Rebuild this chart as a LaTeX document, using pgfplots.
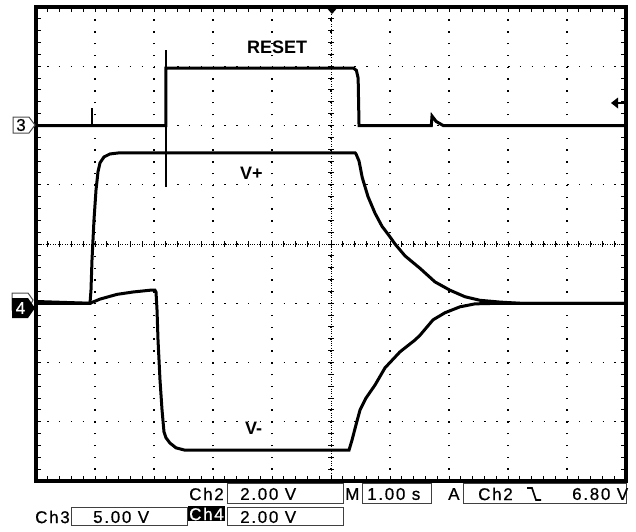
\documentclass[border=0pt]{standalone}
\usepackage{pgfplots}
\pgfplotsset{compat=1.18}
\usepackage{fontspec}
\setmainfont{Liberation Sans}
\newfontfamily\oscfont[LetterSpace=10, FakeBold=0.6]{Liberation Sans}
\newcommand{\osc}{\oscfont\fontsize{17}{17}\selectfont}
\begin{document}
\begin{tikzpicture}
\useasboundingbox (0,0) rectangle (636pt,-531pt);
% centre crosshair (drawn beneath the traces)
\begin{scope}[x=1pt,y=-1pt]
\draw[line width=1pt, dash pattern=on 1pt off 1.4pt] (331,7) -- (331,481);
\draw[line width=1pt, dash pattern=on 1pt off 1.4pt] (36,244) -- (626,244);
\foreach \i in {1,...,39} {\draw[line width=1pt] (328,7+\i*11.85) -- (334,7+\i*11.85);}
\foreach \i in {1,...,49} {\draw[line width=1pt] (36+\i*11.8,241) -- (36+\i*11.8,247);}
\end{scope}
\begin{axis}[
  at={(36pt,-481pt)}, anchor=south west,
  width=590pt, height=474pt, scale only axis,
  xmin=0, xmax=10, ymin=0, ymax=8,
  xtick={0,...,10}, ytick={0,...,8},
  xticklabels={}, yticklabels={},
  minor x tick num=4, minor y tick num=4,
  tick align=inside,
  major tick length=5pt, minor tick length=5pt,
  tick style={black, line width=1pt},
  grid=major,
  major grid style={black, line width=1.4pt, dash pattern=on 1.4pt off 10.42pt, dash phase=0.7pt},
  axis line style={line width=3.5pt},
]
% Ch3 : RESET
\addplot[black, line width=3pt] coordinates {
 (0,6.0) (0.95,6.0) (2.203,6.0) (2.203,6.97) (5.38,6.97) (5.43,6.93) (5.46,6.8) (5.475,6.0)
 (6.70,6.0) (6.712,6.16) (6.78,6.07) (6.90,6.0) (10,6.0)};
\addplot[black, line width=1.2pt] coordinates {(0.95,6.0) (0.95,6.30)};
\addplot[black, line width=1.2pt] coordinates {(2.203,4.96) (2.203,7.27)};
% Ch2 : V+
\addplot[black, line width=3pt] coordinates {
 (0,3.0) (0.915,3.0) (0.932,3.22) (0.949,3.73) (0.983,4.41) (1.017,4.91) (1.051,5.22)
 (1.085,5.37) (1.153,5.47) (1.254,5.52) (1.424,5.54) (5.407,5.54) (5.424,5.52)
 (5.475,5.40) (5.530,5.12) (5.627,4.80) (5.746,4.52) (5.864,4.30) (6.0,4.12)
 (6.085,4.0) (6.254,3.80) (6.508,3.59) (6.763,3.36) (7.017,3.22) (7.271,3.11)
 (7.525,3.05) (7.864,3.02) (8.203,3.0) (10,3.0)};
% Ch4 : V-
\addplot[black, line width=3pt] coordinates {
 (0,3.03) (0.915,3.0) (1.085,3.07) (1.373,3.15) (1.644,3.19) (1.932,3.22) (2.017,3.22)
 (2.034,3.19) (2.051,2.89) (2.068,2.38) (2.102,1.70) (2.136,1.20) (2.169,0.83)
 (2.203,0.73) (2.271,0.64) (2.373,0.56) (2.525,0.52) (5.305,0.52) (5.356,0.69)
 (5.424,0.95) (5.492,1.20) (5.593,1.40) (5.746,1.62) (5.915,1.91) (6.169,2.18)
 (6.424,2.38) (6.508,2.46) (6.729,2.72) (6.932,2.84) (7.186,2.94) (7.441,2.99)
 (7.864,3.0) (10,3.0)};
\end{axis}
\begin{scope}[x=1pt,y=-1pt]
% trace labels
\node[anchor=west, inner sep=0, font=\bfseries\fontsize{18}{18}\selectfont] at (247,47) {RESET};
\node[anchor=west, inner sep=0, font=\bfseries\fontsize{18}{18}\selectfont] at (240,173.5) {V+};
\node[anchor=west, inner sep=0, font=\bfseries\fontsize{18}{18}\selectfont] at (245,428) {V-};
% channel markers
\draw[black!70, line width=1pt, fill=white] (13,117)--(29,117)--(35,125)--(29,133)--(13,133)--cycle;
\node[inner sep=0, font=\oscfont\fontsize{17}{17}\selectfont] at (21,125) {3};
\draw[black!70, line width=1pt, fill=white] (12,293)--(28,293)--(33,300)--(28,310)--(12,310)--cycle;
\fill[black] (12,298)--(28,298)--(35,308)--(28,318)--(12,318)--cycle;
\node[inner sep=0, text=white, font=\oscfont\fontsize{17}{17}\selectfont] at (20.5,308) {4};
% trigger markers
\fill[black] (611,103)--(618,97.5)--(618,108.5)--cycle;
\draw[line width=1.2pt] (617,103)--(625,103);
\fill[black] (325,6)--(339,6)--(332,14)--cycle;
% readouts
\draw[black!75, line width=0.8pt] (227,483) rectangle (343,503);
\draw[black!75, line width=0.8pt] (362,483) rectangle (431,503);
\draw[black!75, line width=0.8pt] (463,483) rectangle (626,503);
\draw[black!75, line width=0.8pt] (71,507) rectangle (187,525);
\draw[black!75, line width=0.8pt] (227,507) rectangle (343,525);
\fill[black] (188,506) rectangle (225,521);
\node[anchor=west, inner sep=0, font=\osc] at (189,494) {Ch2};
\node[anchor=west, inner sep=0, font=\osc] at (240,494) {2.00 V};
\node[anchor=west, inner sep=0, font=\osc] at (345,494) {M};
\node[anchor=west, inner sep=0, font=\osc] at (367,494) {1.00 s};
\node[anchor=west, inner sep=0, font=\osc] at (448,494) {A};
\node[anchor=west, inner sep=0, font=\osc] at (478,494) {Ch2};
\draw[line width=1.6pt] (527,488)--(532,488)--(536,500)--(541,500);
\node[anchor=west, inner sep=0, font=\osc] at (572,494) {6.80 V};
\node[anchor=west, inner sep=0, font=\osc] at (35,517) {Ch3};
\node[anchor=west, inner sep=0, font=\osc] at (93,517) {5.00 V};
\node[anchor=west, inner sep=0, font=\osc, text=white] at (189,514) {Ch4};
\node[anchor=west, inner sep=0, font=\osc] at (240,517) {2.00 V};
\end{scope}
\end{tikzpicture}
\end{document}
